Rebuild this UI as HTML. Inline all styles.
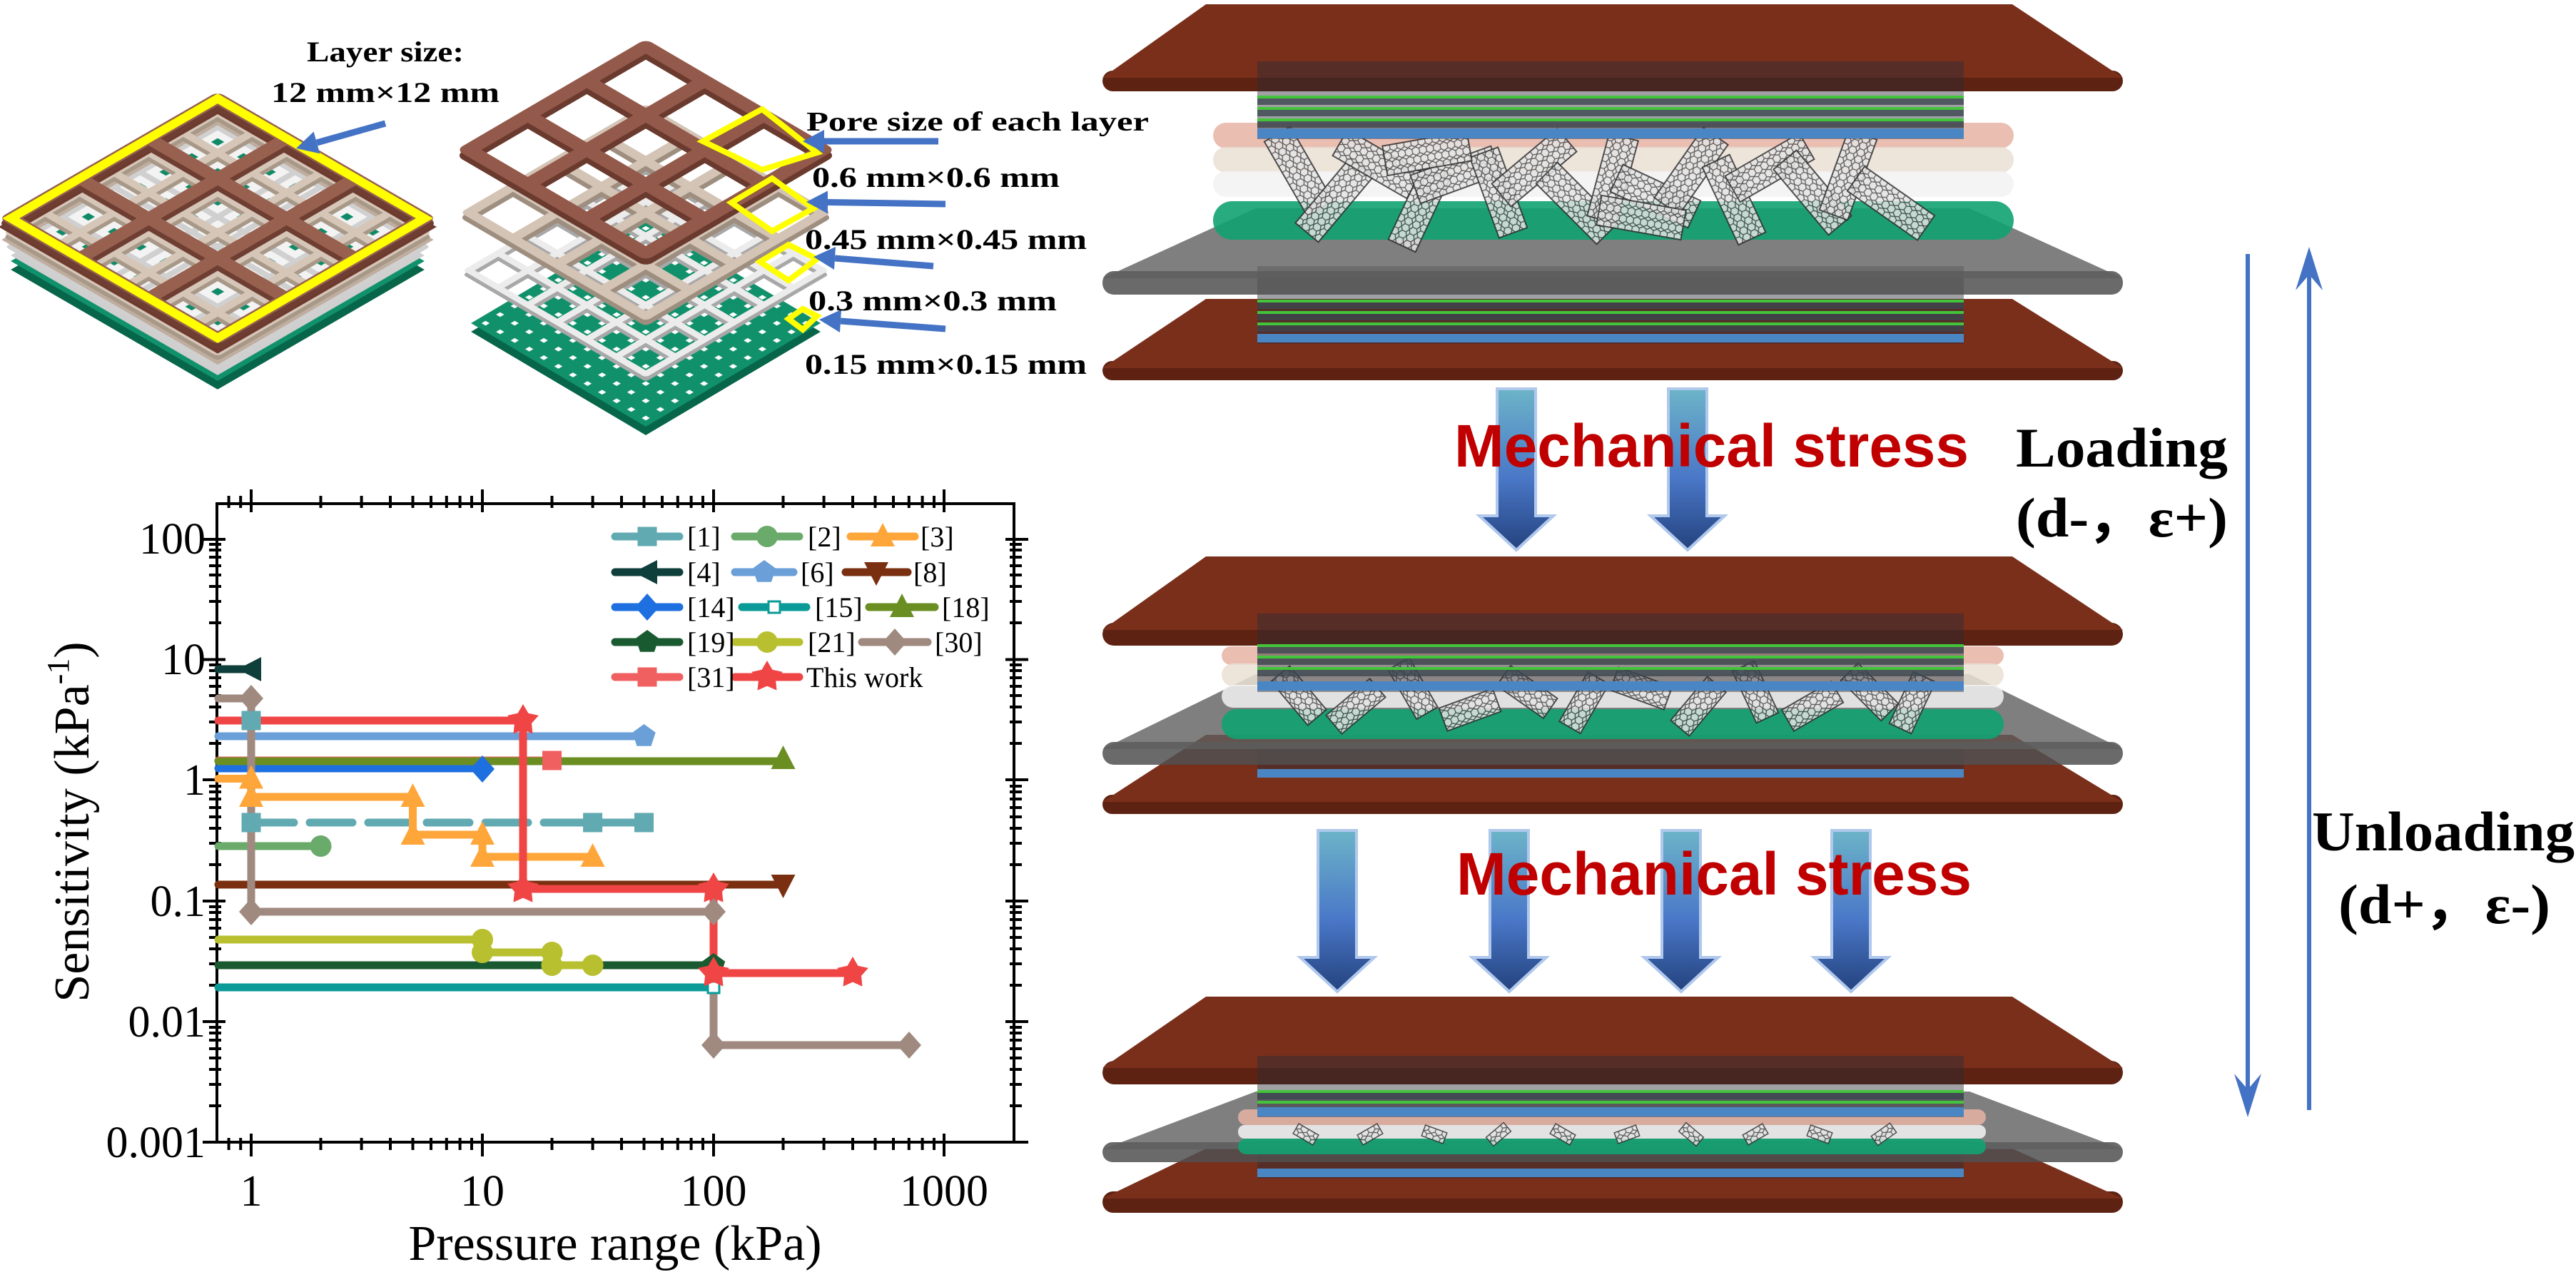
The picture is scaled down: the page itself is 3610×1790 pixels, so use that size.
<!DOCTYPE html>
<html><head><meta charset="utf-8">
<style>
html,body{margin:0;padding:0;background:#fff;}
svg{display:block;}
.serif{font-family:"Liberation Serif",serif;}
.sans{font-family:"Liberation Sans",sans-serif;}
</style></head>
<body>
<svg xmlns="http://www.w3.org/2000/svg" width="3610" height="1790" viewBox="0 0 3610 1790">
<defs>
<linearGradient id="ag" x1="0" y1="0" x2="0" y2="1">
<stop offset="0" stop-color="#6cb4c8"/><stop offset="0.55" stop-color="#4a78c8"/><stop offset="1" stop-color="#24427e"/>
</linearGradient>
<pattern id="hex" width="12" height="10" patternUnits="userSpaceOnUse">
<rect width="12" height="10" fill="#e4e4e4"/>
<path d="M0 5 L3 0 L9 0 L12 5 L9 10 L3 10 Z" fill="none" stroke="#444" stroke-width="1.3"/>
</pattern>
<pattern id="dotsL" width="34.167" height="34.167" patternUnits="userSpaceOnUse">
<rect x="12.5" y="12.5" width="9" height="9" fill="#fff"/>
</pattern>
<pattern id="dotsR" width="28.867" height="28.867" patternUnits="userSpaceOnUse">
<rect x="10.5" y="10.5" width="8" height="8" fill="#fff"/>
</pattern>
<pattern id="wcells" width="51.25" height="51.25" patternUnits="userSpaceOnUse">
<rect x="19" y="19" width="13" height="13" fill="#0f8a66"/>
</pattern>
<path id="gL3" d="M-205 -205V205M-68.3 -205V205M68.3 -205V205M205 -205V205M-205 -205H205M-205 -68.3H205M-205 68.3H205M-205 205H205"/>
<path id="gL6" d="M-205 -205V205M-136.7 -205V205M-68.3 -205V205M0 -205V205M68.3 -205V205M136.7 -205V205M205 -205V205M-205 -205H205M-205 -136.7H205M-205 -68.3H205M-205 0H205M-205 68.3H205M-205 136.7H205M-205 205H205"/>
<path id="gL8" d="M-205 -205V205M-153.75 -205V205M-102.5 -205V205M-51.25 -205V205M0 -205V205M51.25 -205V205M102.5 -205V205M153.75 -205V205M205 -205V205M-205 -205H205M-205 -153.75H205M-205 -102.5H205M-205 -51.25H205M-205 0H205M-205 51.25H205M-205 102.5H205M-205 153.75H205M-205 205H205"/>
<path id="gR3" d="M-175.4 -175.4V175.4M-58.5 -175.4V175.4M58.5 -175.4V175.4M175.4 -175.4V175.4M-175.4 -175.4H175.4M-175.4 -58.5H175.4M-175.4 58.5H175.4M-175.4 175.4H175.4"/>
<path id="gR4" d="M-175.4 -175.4V175.4M-87.7 -175.4V175.4M0 -175.4V175.4M87.7 -175.4V175.4M175.4 -175.4V175.4M-175.4 -175.4H175.4M-175.4 -87.7H175.4M-175.4 0H175.4M-175.4 87.7H175.4M-175.4 175.4H175.4"/>
<path id="gR6" d="M-175.4 -175.4V175.4M-116.9 -175.4V175.4M-58.5 -175.4V175.4M0 -175.4V175.4M58.5 -175.4V175.4M116.9 -175.4V175.4M175.4 -175.4V175.4M-175.4 -175.4H175.4M-175.4 -116.9H175.4M-175.4 -58.5H175.4M-175.4 0H175.4M-175.4 58.5H175.4M-175.4 116.9H175.4M-175.4 175.4H175.4"/>
<rect id="sq" x="-13.5" y="-13.5" width="27" height="27"/>
<rect id="ssq" x="-8" y="-8" width="16" height="16" fill="#fff" stroke-width="3"/>
<circle id="ci" r="15"/>
<polygon id="tu" points="0,-19 17,14 -17,14"/>
<polygon id="td" points="0,19 17,-14 -17,-14"/>
<polygon id="tl" points="-19,0 14,-17 14,17"/>
<polygon id="di" points="0,-19 17,0 0,19 -17,0"/>
<polygon id="pe" points="0,-17 16.2,-5.3 10,13.8 -10,13.8 -16.2,-5.3"/>
<polygon id="st" points="0,-23 7.4,-10.2 21.9,-7.1 12,3.9 13.5,18.6 0,12.6 -13.5,18.6 -12,3.9 -21.9,-7.1 -7.4,-10.2"/>
<rect id="cnt" x="-21" y="-60" width="42" height="120" fill="url(#hex)" stroke="#333" stroke-width="2" opacity="0.85"/>
<rect id="cnt2" x="-17" y="-40" width="34" height="80" fill="url(#hex)" stroke="#333" stroke-width="2" opacity="0.85"/>
<rect id="cnt3" x="-8" y="-16" width="16" height="32" fill="url(#hex)" stroke="#333" stroke-width="1.5" opacity="0.85"/>
</defs>
<rect width="3610" height="1790" fill="#fff"/>

<!-- ===== LEFT STACK ===== -->
<g transform="translate(305,378) scale(1,0.579) rotate(45)"><rect x="-205" y="-205" width="410" height="410" fill="#07664a"/></g>
<g transform="translate(305,366) scale(1,0.579) rotate(45)"><rect x="-205" y="-205" width="410" height="410" fill="#11916b"/><rect x="-205" y="-205" width="410" height="410" fill="url(#dotsL)"/></g>
<g transform="translate(305,358) scale(1,0.579) rotate(45)"><rect x="-205" y="-205" width="410" height="410" fill="#cfcfcf"/></g>
<g transform="translate(305,346) scale(1,0.579) rotate(45)"><rect x="-205" y="-205" width="410" height="410" fill="#f3f3f3"/><rect x="-205" y="-205" width="410" height="410" fill="url(#wcells)"/>
<use href="#gL8" fill="none" stroke="#d0d0d0" stroke-width="11" stroke-linecap="round"/></g>
<g transform="translate(305,336) scale(1,0.579) rotate(45)"><rect x="-205" y="-205" width="410" height="410" fill="none" stroke="#bfae9f" stroke-width="18"/></g>
<g transform="translate(305,332) scale(1,0.579) rotate(45)"><use href="#gL6" fill="none" stroke="#a89888" stroke-width="15" stroke-linecap="round"/></g>
<g transform="translate(305,326) scale(1,0.579) rotate(45)"><use href="#gL6" fill="none" stroke="#d6c6b8" stroke-width="14" stroke-linecap="round"/></g>
<g transform="translate(305,318) scale(1,0.579) rotate(45)"><rect x="-205" y="-205" width="410" height="410" fill="none" stroke="#6e3a2e" stroke-width="24"/></g>
<g transform="translate(305,313) scale(1,0.579) rotate(45)"><use href="#gL3" fill="none" stroke="#6e3e32" stroke-width="26" stroke-linecap="round"/></g>
<g transform="translate(305,306) scale(1,0.579) rotate(45)"><use href="#gL3" fill="none" stroke="#98604f" stroke-width="24" stroke-linecap="round"/></g>
<g transform="translate(305,306) scale(1,0.579) rotate(45)"><rect x="-205" y="-205" width="410" height="410" fill="none" stroke="#ffff00" stroke-width="17"/></g>

<!-- ===== RIGHT EXPLODED ===== -->
<g transform="translate(905,465) scale(1,0.592) rotate(45)"><rect x="-173.2" y="-173.2" width="346.4" height="346.4" fill="#07664a"/></g>
<g transform="translate(905,453) scale(1,0.592) rotate(45)"><rect x="-173.2" y="-173.2" width="346.4" height="346.4" fill="#11916b"/><rect x="-173.2" y="-173.2" width="346.4" height="346.4" fill="url(#dotsR)"/></g>
<g transform="translate(905,385) scale(1,0.585) rotate(45)"><use href="#gR6" fill="none" stroke="#a8a8a8" stroke-width="12" stroke-linecap="round"/></g>
<g transform="translate(905,379) scale(1,0.585) rotate(45)"><use href="#gR6" fill="none" stroke="#ececec" stroke-width="12" stroke-linecap="round"/></g>
<g transform="translate(905,305) scale(1,0.585) rotate(45)"><use href="#gR4" fill="none" stroke="#9e8e80" stroke-width="18" stroke-linecap="round"/></g>
<g transform="translate(905,298) scale(1,0.585) rotate(45)"><use href="#gR4" fill="none" stroke="#d4c4b6" stroke-width="17" stroke-linecap="round"/></g>
<g transform="translate(905,218) scale(1,0.585) rotate(45)"><use href="#gR3" fill="none" stroke="#6a3a2e" stroke-width="26" stroke-linecap="round"/></g>
<g transform="translate(905,210) scale(1,0.585) rotate(45)"><use href="#gR3" fill="none" stroke="#93594a" stroke-width="25" stroke-linecap="round"/></g>
<g fill="none" stroke="#ffff00" stroke-width="8">
<polygon points="1068,153 1145,214 1068,238 985,198"/>
<polygon points="1082,250 1140,292 1082,324 1025,284"/>
<polygon points="1105,343 1145,363 1105,393 1065,367"/>
<polygon points="1125,433 1145,443 1125,462 1105,447"/>
</g>
<!-- pointer arrows -->
<g stroke="#4472c4" stroke-width="9">
<line x1="540" y1="173" x2="444" y2="200"/>
<line x1="1315" y1="198" x2="1155" y2="198"/>
<line x1="1325" y1="286" x2="1160" y2="283.5"/>
<line x1="1308" y1="373" x2="1170" y2="362"/>
<line x1="1325" y1="461" x2="1178" y2="450"/>
</g>
<g fill="#4472c4">
<polygon points="415,208 439.6,184.5 448.2,215.3"/>
<polygon points="1125,198 1155,182 1155,214"/>
<polygon points="1130,283 1160,267.5 1160,299.5"/>
<polygon points="1140,360 1171,346 1169,378"/>
<polygon points="1148,448 1179,434 1177,466"/>
</g>

<!-- top-left labels -->
<g class="serif" font-weight="bold" fill="#000">
<text x="430" y="86" font-size="40" textLength="220" lengthAdjust="spacingAndGlyphs">Layer size:</text>
<text x="380" y="143" font-size="40" textLength="320" lengthAdjust="spacingAndGlyphs">12 mm×12 mm</text>
<text x="1130" y="183" font-size="38" textLength="480" lengthAdjust="spacingAndGlyphs">Pore size of each layer</text>
<text x="1138" y="262" font-size="40" textLength="347" lengthAdjust="spacingAndGlyphs">0.6 mm×0.6 mm</text>
<text x="1128" y="349" font-size="40" textLength="395" lengthAdjust="spacingAndGlyphs">0.45 mm×0.45 mm</text>
<text x="1133" y="435" font-size="40" textLength="348" lengthAdjust="spacingAndGlyphs">0.3 mm×0.3 mm</text>
<text x="1128" y="524" font-size="40" textLength="395" lengthAdjust="spacingAndGlyphs">0.15 mm×0.15 mm</text>
</g>

<!-- ===== RIGHT ASSEMBLIES ===== -->
<!-- A1 -->
<rect x="1545" y="506" width="1430" height="27" rx="13.5" fill="#5e2212"/>
<polygon points="1690,419 2820,419 2975,516 1545,516" fill="#7a2f1b"/>
<rect x="1762" y="373" width="990" height="109" fill="rgba(45,45,55,0.45)"/>
<rect x="1762" y="420" width="990" height="4" fill="#43c43a"/><rect x="1762" y="424" width="990" height="9" fill="rgba(60,70,80,0.8)"/>
<rect x="1762" y="436" width="990" height="4" fill="#43c43a"/><rect x="1762" y="440" width="990" height="9" fill="rgba(60,70,80,0.8)"/>
<rect x="1762" y="452" width="990" height="4" fill="#43c43a"/><rect x="1762" y="456" width="990" height="9" fill="rgba(60,70,80,0.8)"/>
<rect x="1762" y="468" width="990" height="12" fill="#4a86c4"/>
<rect x="1545" y="380" width="1430" height="33" rx="16" fill="rgba(80,80,80,0.85)"/>
<polygon points="1760,292 2760,292 2975,390 1545,390" fill="rgba(95,95,95,0.8)"/>
<rect x="1700" y="172" width="1122" height="36" rx="18" fill="#e6b4a4" opacity="0.85"/>
<rect x="1700" y="206" width="1122" height="36" rx="18" fill="#eadfd4" opacity="0.85"/>
<rect x="1700" y="240" width="1122" height="36" rx="18" fill="#f2f2f2" opacity="0.85"/>
<rect x="1700" y="282" width="1122" height="54" rx="27" fill="#12a272" opacity="0.9"/>
<use href="#cnt" transform="translate(1820,240) rotate(-30)"/>
<use href="#cnt" transform="translate(1870,280) rotate(40)"/>
<use href="#cnt" transform="translate(1930,230) rotate(-60)"/>
<use href="#cnt" transform="translate(1990,290) rotate(25)"/>
<use href="#cnt" transform="translate(2040,245) rotate(70)"/>
<use href="#cnt" transform="translate(2100,270) rotate(-20)"/>
<use href="#cnt" transform="translate(2150,235) rotate(50)"/>
<use href="#cnt" transform="translate(2210,285) rotate(-45)"/>
<use href="#cnt" transform="translate(2260,250) rotate(15)"/>
<use href="#cnt" transform="translate(2320,275) rotate(-65)"/>
<use href="#cnt" transform="translate(2370,240) rotate(35)"/>
<use href="#cnt" transform="translate(2430,280) rotate(-25)"/>
<use href="#cnt" transform="translate(2480,235) rotate(60)"/>
<use href="#cnt" transform="translate(2540,270) rotate(-40)"/>
<use href="#cnt" transform="translate(2590,245) rotate(20)"/>
<use href="#cnt" transform="translate(2650,285) rotate(-55)"/>
<use href="#cnt" transform="translate(2000,215) rotate(80)"/>
<use href="#cnt" transform="translate(2300,305) rotate(-80)"/>
<rect x="1545" y="99" width="1430" height="29" rx="14.5" fill="#5e2212"/>
<polygon points="1690,6 2820,6 2975,109 1545,109" fill="#7a2f1b"/>
<rect x="1762" y="86" width="990" height="109" fill="rgba(45,45,55,0.45)"/>
<rect x="1762" y="134" width="990" height="4" fill="#43c43a"/><rect x="1762" y="138" width="990" height="9" fill="rgba(60,70,80,0.8)"/>
<rect x="1762" y="150" width="990" height="4" fill="#43c43a"/><rect x="1762" y="154" width="990" height="9" fill="rgba(60,70,80,0.8)"/>
<rect x="1762" y="166" width="990" height="4" fill="#43c43a"/><rect x="1762" y="170" width="990" height="9" fill="rgba(60,70,80,0.8)"/>
<rect x="1762" y="180" width="990" height="14" fill="#4a86c4"/>

<!-- A2 -->
<rect x="1545" y="1114" width="1430" height="27" rx="13.5" fill="#5e2212"/>
<polygon points="1690,1030 2820,1030 2975,1124 1545,1124" fill="#7a2f1b"/>
<rect x="1762" y="1040" width="990" height="50" fill="rgba(45,45,55,0.45)"/>
<rect x="1762" y="1078" width="990" height="12" fill="#4a86c4"/>
<rect x="1545" y="1040" width="1430" height="32" rx="16" fill="rgba(80,80,80,0.85)"/>
<polygon points="1760,945 2760,945 2975,1050 1545,1050" fill="rgba(95,95,95,0.8)"/>
<rect x="1712" y="906" width="1096" height="26" rx="13" fill="#e6b4a4" opacity="0.85"/>
<rect x="1712" y="930" width="1096" height="32" rx="16" fill="#eadfd4" opacity="0.85"/>
<rect x="1712" y="960" width="1096" height="32" rx="16" fill="#f2f2f2" opacity="0.85"/>
<rect x="1712" y="994" width="1096" height="42" rx="21" fill="#12a272" opacity="0.9"/>
<use href="#cnt2" transform="translate(1820,975) rotate(-40)"/>
<use href="#cnt2" transform="translate(1900,990) rotate(50)"/>
<use href="#cnt2" transform="translate(1980,965) rotate(-30)"/>
<use href="#cnt2" transform="translate(2060,995) rotate(70)"/>
<use href="#cnt2" transform="translate(2140,970) rotate(-55)"/>
<use href="#cnt2" transform="translate(2220,985) rotate(30)"/>
<use href="#cnt2" transform="translate(2300,965) rotate(-70)"/>
<use href="#cnt2" transform="translate(2380,990) rotate(40)"/>
<use href="#cnt2" transform="translate(2460,970) rotate(-25)"/>
<use href="#cnt2" transform="translate(2540,990) rotate(60)"/>
<use href="#cnt2" transform="translate(2620,970) rotate(-45)"/>
<use href="#cnt2" transform="translate(2680,985) rotate(25)"/>
<rect x="1545" y="873" width="1430" height="32" rx="16" fill="#5e2212"/>
<polygon points="1690,780 2820,780 2975,883 1545,883" fill="#7a2f1b"/>
<rect x="1762" y="860" width="990" height="110" fill="rgba(45,45,55,0.45)"/>
<rect x="1762" y="903" width="990" height="4" fill="#43c43a"/><rect x="1762" y="907" width="990" height="9" fill="rgba(60,70,80,0.8)"/>
<rect x="1762" y="919" width="990" height="4" fill="#43c43a"/><rect x="1762" y="923" width="990" height="9" fill="rgba(60,70,80,0.8)"/>
<rect x="1762" y="935" width="990" height="4" fill="#43c43a"/><rect x="1762" y="939" width="990" height="9" fill="rgba(60,70,80,0.8)"/>
<rect x="1762" y="955" width="990" height="13" fill="#4a86c4"/>

<!-- A3 -->
<rect x="1545" y="1670" width="1430" height="30" rx="15" fill="#5e2212"/>
<polygon points="1690,1610 2820,1610 2975,1680 1545,1680" fill="#7a2f1b"/>
<rect x="1762" y="1600" width="990" height="52" fill="rgba(45,45,55,0.45)"/>
<rect x="1762" y="1638" width="990" height="12" fill="#4a86c4"/>
<rect x="1545" y="1601" width="1430" height="28" rx="14" fill="rgba(80,80,80,0.85)"/>
<polygon points="1760,1530 2760,1530 2975,1611 1545,1611" fill="rgba(95,95,95,0.8)"/>
<rect x="1735" y="1555" width="1048" height="22" rx="11" fill="#e6b4a4" opacity="0.85"/>
<rect x="1735" y="1577" width="1048" height="19" rx="9" fill="#f4f4f4" opacity="0.85"/>
<rect x="1735" y="1596" width="1048" height="22" rx="11" fill="#12a272" opacity="0.9"/>
<use href="#cnt3" transform="translate(1830,1590) rotate(-60)"/>
<use href="#cnt3" transform="translate(1920,1590) rotate(60)"/>
<use href="#cnt3" transform="translate(2010,1590) rotate(-70)"/>
<use href="#cnt3" transform="translate(2100,1590) rotate(50)"/>
<use href="#cnt3" transform="translate(2190,1590) rotate(-60)"/>
<use href="#cnt3" transform="translate(2280,1590) rotate(70)"/>
<use href="#cnt3" transform="translate(2370,1590) rotate(-50)"/>
<use href="#cnt3" transform="translate(2460,1590) rotate(60)"/>
<use href="#cnt3" transform="translate(2550,1590) rotate(-70)"/>
<use href="#cnt3" transform="translate(2640,1590) rotate(55)"/>
<rect x="1545" y="1487" width="1430" height="33" rx="16.5" fill="#5e2212"/>
<polygon points="1690,1397 2820,1397 2975,1497 1545,1497" fill="#7a2f1b"/>
<rect x="1762" y="1480" width="990" height="86" fill="rgba(45,45,55,0.45)"/>
<rect x="1762" y="1528" width="990" height="4" fill="#43c43a"/><rect x="1762" y="1532" width="990" height="9" fill="rgba(60,70,80,0.8)"/>
<rect x="1762" y="1543" width="990" height="4" fill="#43c43a"/>
<rect x="1762" y="1552" width="990" height="13" fill="#4a86c4"/>

<!-- big arrows -->
<g fill="url(#ag)" stroke="#b0c8ec" stroke-width="4">
<polygon points="2098,545 2152,545 2152,723 2177,723 2125,771 2073,723 2098,723"/>
<polygon points="2338,545 2392,545 2392,723 2417,723 2365,771 2313,723 2338,723"/>
<polygon points="1847,1164 1901,1164 1901,1342 1926,1342 1874,1390 1822,1342 1847,1342"/>
<polygon points="2088,1164 2142,1164 2142,1342 2167,1342 2115,1390 2063,1342 2088,1342"/>
<polygon points="2329,1164 2383,1164 2383,1342 2408,1342 2356,1390 2304,1342 2329,1342"/>
<polygon points="2567,1164 2621,1164 2621,1342 2646,1342 2594,1390 2542,1342 2567,1342"/>
</g>
<g class="sans" font-weight="bold" fill="#c00000" font-size="84">
<text x="2038" y="654" textLength="721" lengthAdjust="spacingAndGlyphs">Mechanical stress</text>
<text x="2041" y="1254" textLength="722" lengthAdjust="spacingAndGlyphs">Mechanical stress</text>
</g>
<g class="serif" font-weight="bold" fill="#000" font-size="78">
<text x="2825" y="654" textLength="297" lengthAdjust="spacingAndGlyphs">Loading</text>
<text x="2825" y="752" textLength="297" lengthAdjust="spacingAndGlyphs">(d-，ε+)</text>
<text x="3240" y="1192" textLength="368" lengthAdjust="spacingAndGlyphs">Unloading</text>
<text x="3277" y="1294" textLength="297" lengthAdjust="spacingAndGlyphs">(d+，ε-)</text>
</g>
<g stroke="#4472c4" stroke-width="6" fill="#4472c4">
<line x1="3150" y1="356" x2="3150" y2="1545"/>
<polygon points="3150,1566 3131,1505 3150,1527 3169,1505" stroke="none"/>
<line x1="3236" y1="1556" x2="3236" y2="368"/>
<polygon points="3236,346 3217,407 3236,385 3255,407" stroke="none"/>
</g>

<!-- ===== CHART ===== -->
<rect x="304" y="706" width="1117" height="895" fill="none" stroke="#000" stroke-width="4"/>
<path stroke="#000" stroke-width="4" fill="none" d="
M352 1621V1589M676 1621V1589M1000 1621V1589M1323 1621V1589
M352 686V718M676 686V718M1000 686V718M1323 686V718
M320.6 1612V1595M337.2 1612V1595M449.5 1612V1595M506.6 1612V1595M547 1612V1595M578.5 1612V1595M604 1612V1595M625.8 1612V1595M644.6 1612V1595M661 1612V1595
M773.5 1612V1595M830.6 1612V1595M871 1612V1595M902.5 1612V1595M928 1612V1595M949.8 1612V1595M968.6 1612V1595M985 1612V1595
M1097.5 1612V1595M1154.6 1612V1595M1195 1612V1595M1226.5 1612V1595M1252 1612V1595M1273.8 1612V1595M1292.6 1612V1595M1309 1612V1595
M320.6 695V712M337.2 695V712M449.5 695V712M506.6 695V712M547 695V712M578.5 695V712M604 695V712M625.8 695V712M644.6 695V712M661 695V712
M773.5 695V712M830.6 695V712M871 695V712M902.5 695V712M928 695V712M949.8 695V712M968.6 695V712M985 695V712
M1097.5 695V712M1154.6 695V712M1195 695V712M1226.5 695V712M1252 695V712M1273.8 695V712M1292.6 695V712M1309 695V712
M284 756H316M284 924.5H316M284 1093H316M284 1263H316M284 1432H316M284 1601H316
M1441 756H1409M1441 924.5H1409M1441 1093H1409M1441 1263H1409M1441 1432H1409M1441 1601H1409
M293 1550H310M293 1520H310M293 1499H310M293 1483H310M293 1470H310M293 1458H310M293 1448H310M293 1440H310
M293 1381H310M293 1351H310M293 1330H310M293 1314H310M293 1301H310M293 1289H310M293 1279H310M293 1271H310
M293 1212H310M293 1182H310M293 1161H310M293 1145H310M293 1132H310M293 1120H310M293 1110H310M293 1102H310
M293 1042H310M293 1012H310M293 991H310M293 975H310M293 962H310M293 950H310M293 940H310M293 932H310
M293 873H310M293 843H310M293 822H310M293 806H310M293 793H310M293 781H310M293 771H310M293 763H310
M1432 1550H1415M1432 1520H1415M1432 1499H1415M1432 1483H1415M1432 1470H1415M1432 1458H1415M1432 1448H1415M1432 1440H1415
M1432 1381H1415M1432 1351H1415M1432 1330H1415M1432 1314H1415M1432 1301H1415M1432 1289H1415M1432 1279H1415M1432 1271H1415
M1432 1212H1415M1432 1182H1415M1432 1161H1415M1432 1145H1415M1432 1132H1415M1432 1120H1415M1432 1110H1415M1432 1102H1415
M1432 1042H1415M1432 1012H1415M1432 991H1415M1432 975H1415M1432 962H1415M1432 950H1415M1432 940H1415M1432 932H1415
M1432 873H1415M1432 843H1415M1432 822H1415M1432 806H1415M1432 793H1415M1432 781H1415M1432 771H1415M1432 763H1415"/>

<g fill="none" stroke-width="11" stroke-linecap="round">
<path d="M306 1384H1000" stroke="#0a9a98"/>
<path d="M306 1353H1000" stroke="#1a5a30"/>
<path d="M306 1317H676M676 1335H773.5M773.5 1353H830.6" stroke="#b8c030"/>
<path d="M306 1240H1097.5" stroke="#7a3010"/>
<path d="M306 1186H449.5" stroke="#6aaa6a"/>
<path d="M352 1153H902.5" stroke="#62aab2" stroke-dasharray="60 22"/>
<path d="M306 1091.5H352M352 1117H578.5V1170H676V1201H830.6" stroke="#ffa63a"/>
<path d="M306 1077H676" stroke="#1e6fe0"/>
<path d="M306 1066H773.5" stroke="#f06060"/>
<path d="M306 1067H1097.5" stroke="#6b8e23"/>
<path d="M306 1032H902.5" stroke="#6a9fd8"/>
<path d="M306 938H352" stroke="#0f3f3a"/>
<path d="M306 979H352V1278H1000V1465H1274" stroke="#a08a80"/>
<path d="M306 1010H733V1246H1000V1364H1195" stroke="#f04545"/>
</g>
<use href="#ssq" x="1000" y="1384" stroke="#0a9a98"/>
<use href="#pe" x="1000" y="1353" fill="#1a5a30"/>
<use href="#ci" x="676" y="1317" fill="#b8c030"/><use href="#ci" x="676" y="1335" fill="#b8c030"/><use href="#ci" x="773.5" y="1335" fill="#b8c030"/><use href="#ci" x="773.5" y="1353" fill="#b8c030"/><use href="#ci" x="830.6" y="1353" fill="#b8c030"/>
<use href="#td" x="1097.5" y="1240" fill="#7a3010"/>
<use href="#ci" x="449.5" y="1186" fill="#6aaa6a"/>
<use href="#sq" x="352" y="1153" fill="#62aab2"/><use href="#sq" x="830.6" y="1153" fill="#62aab2"/><use href="#sq" x="902.5" y="1153" fill="#62aab2"/><use href="#sq" x="352" y="1010" fill="#62aab2"/>
<use href="#tu" x="352" y="1091.5" fill="#ffa63a"/><use href="#tu" x="352" y="1117" fill="#ffa63a"/><use href="#tu" x="578.5" y="1117" fill="#ffa63a"/><use href="#tu" x="578.5" y="1170" fill="#ffa63a"/><use href="#tu" x="676" y="1170" fill="#ffa63a"/><use href="#tu" x="676" y="1201" fill="#ffa63a"/><use href="#tu" x="830.6" y="1201" fill="#ffa63a"/>
<use href="#di" x="676" y="1078" fill="#1e6fe0"/>
<use href="#sq" x="773.5" y="1066" fill="#f06060"/>
<use href="#tu" x="1097.5" y="1064" fill="#6b8e23"/>
<use href="#pe" x="902.5" y="1032" fill="#6a9fd8"/>
<use href="#tl" x="352" y="938" fill="#0f3f3a"/>
<use href="#di" x="352" y="979" fill="#a08a80"/><use href="#di" x="352" y="1278" fill="#a08a80"/><use href="#di" x="1000" y="1278" fill="#a08a80"/><use href="#di" x="1000" y="1465" fill="#a08a80"/><use href="#di" x="1274" y="1465" fill="#a08a80"/>
<use href="#st" x="733" y="1010" fill="#f04545"/><use href="#st" x="733" y="1246" fill="#f04545"/><use href="#st" x="1000" y="1246" fill="#f04545"/><use href="#st" x="1000" y="1364" fill="#f04545"/><use href="#st" x="1195" y="1364" fill="#f04545"/>

<!-- legend -->
<g fill="none" stroke-width="11" stroke-linecap="round">
<path d="M862 752H952" stroke="#62aab2"/><path d="M1030 752H1120" stroke="#6aaa6a"/><path d="M1192 752H1282" stroke="#ffa63a"/>
<path d="M862 802H952" stroke="#0f3f3a"/><path d="M1030 802H1112" stroke="#6a9fd8"/><path d="M1185 802H1272" stroke="#7a3010"/>
<path d="M862 851H952" stroke="#1e6fe0"/><path d="M1040 851H1130" stroke="#0a9a98"/><path d="M1218 851H1310" stroke="#6b8e23"/>
<path d="M862 900H952" stroke="#1a5a30"/><path d="M1030 900H1120" stroke="#b8c030"/><path d="M1208 900H1300" stroke="#a08a80"/>
<path d="M862 949H952" stroke="#f06060"/><path d="M1030 949H1120" stroke="#f04545"/>
</g>
<use href="#sq" x="907" y="752" fill="#62aab2"/><use href="#ci" x="1075" y="752" fill="#6aaa6a"/><use href="#tu" x="1237" y="752" fill="#ffa63a"/>
<use href="#tl" x="907" y="802" fill="#0f3f3a"/><use href="#pe" x="1071" y="802" fill="#6a9fd8"/><use href="#td" x="1228" y="802" fill="#7a3010"/>
<use href="#di" x="907" y="851" fill="#1e6fe0"/><use href="#ssq" x="1085" y="851" stroke="#0a9a98"/><use href="#tu" x="1264" y="851" fill="#6b8e23"/>
<use href="#pe" x="907" y="900" fill="#1a5a30"/><use href="#ci" x="1075" y="900" fill="#b8c030"/><use href="#di" x="1254" y="900" fill="#a08a80"/>
<use href="#sq" x="907" y="949" fill="#f06060"/><use href="#st" x="1075" y="949" fill="#f04545"/>

<g class="serif" fill="#000" font-size="62" text-anchor="end">
<text x="288" y="776">100</text>
<text x="288" y="945">10</text>
<text x="288" y="1114">1</text>
<text x="288" y="1284">0.1</text>
<text x="288" y="1453">0.01</text>
<text x="288" y="1622">0.001</text>
</g>
<g class="serif" fill="#000" font-size="62" text-anchor="middle">
<text x="352" y="1690">1</text>
<text x="676" y="1690">10</text>
<text x="1000" y="1690">100</text>
<text x="1323" y="1690">1000</text>
<text x="862" y="1766" font-size="70">Pressure range (kPa)</text>
<text transform="translate(124,1152) rotate(-90)" font-size="70">Sensitivity (kPa<tspan font-size="44" dy="-28">-1</tspan><tspan dy="28">)</tspan></text>
</g>
<g class="serif" fill="#000" font-size="40">
<text x="963" y="766">[1]</text><text x="1132" y="766">[2]</text><text x="1290" y="766">[3]</text>
<text x="963" y="816">[4]</text><text x="1122" y="816">[6]</text><text x="1280" y="816">[8]</text>
<text x="963" y="865">[14]</text><text x="1142" y="865">[15]</text><text x="1320" y="865">[18]</text>
<text x="963" y="914">[19]</text><text x="1132" y="914">[21]</text><text x="1310" y="914">[30]</text>
<text x="963" y="963">[31]</text><text x="1130" y="963">This work</text>
</g>
</svg>
</body></html>
